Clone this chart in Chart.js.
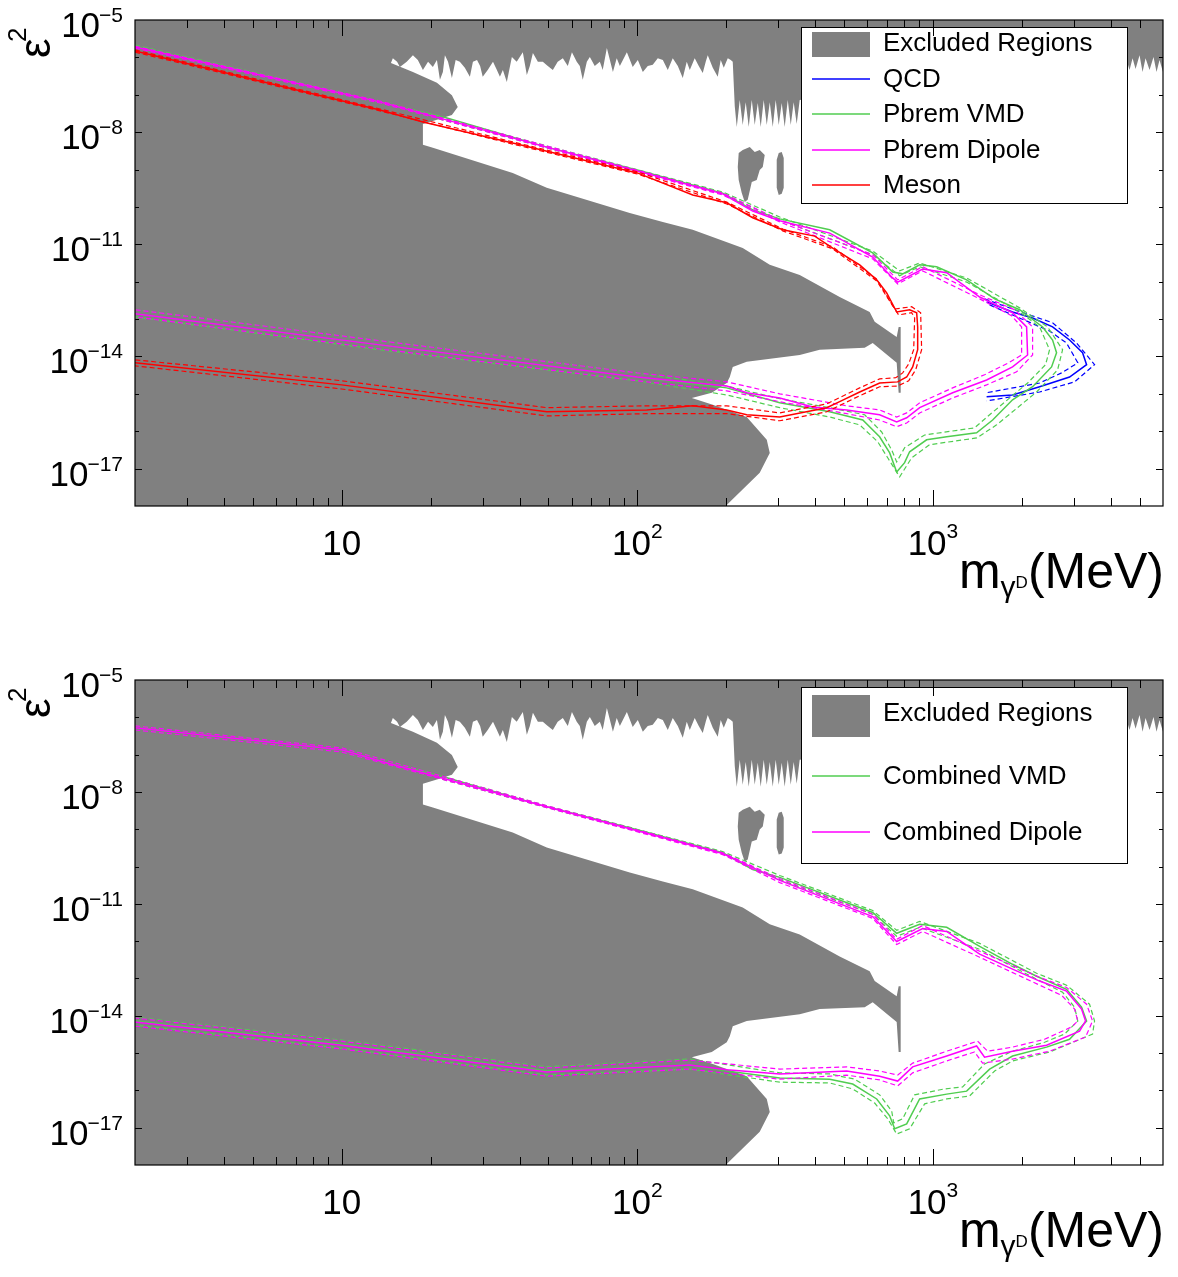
<!DOCTYPE html>
<html>
<head>
<meta charset="utf-8">
<script src="https://cdn.jsdelivr.net/npm/chart.js@4/dist/chart.umd.min.js"></script>
<style>
html, body { margin: 0; padding: 0; background: #fff; }
#wrap { position: relative; width: 1178px; height: 1277px; }
canvas { position: absolute; left: 0; }
#top { top: 0; }
#bottom { top: 660px; }
</style>
</head>
<body>
<div id="wrap">
<canvas id="top" width="1178" height="660"></canvas>
<canvas id="bottom" width="1178" height="617"></canvas>
</div>
<script>
// x values in MeV, y values stored as log10(eps^2)

// excluded region (same in both panels)
var excludedX = [2, 6000, 6000, 5839, 5706, 5573, 5403, 5238, 5117, 4998, 4846, 4734, 4624, 4518,
	354.3, 346.1, 338.1, 330.4, 322.8, 315.2, 308.0, 300.9, 293.9, 287.2, 280.6, 274.1, 267.7, 261.5, 255.6, 249.6, 243.9, 238.2, 232.7, 227.3, 222.1, 217.0, 213.6,
	210.3, 207.1, 202.3, 196.1, 191.5, 187.1, 180, 173.1, 170.4, 166.5, 161.4, 156.4, 150.5, 147.0, 142.5, 137.1, 131.8, 126.8, 122, 117.3, 112.8, 108.5, 104.4, 100.4, 96.5, 92.2, 87.3, 85.2, 82.7, 78.9, 76.4, 74.7, 71.8, 69.1, 67.5, 65.4, 63.9, 62.4, 60.1, 58.2, 56.0, 53.8, 51.8, 49.8, 47.9, 46.1, 44.35, 43.3, 42.3, 41.0, 39.1, 37.65, 36.2, 35.1, 34.3, 33.5, 32.5, 31.2, 30.0, 29.4, 28.7, 27.8, 27.15, 26.1, 25.1, 24.3, 23.6, 22.9, 22.35, 22.0, 21.5, 21.0, 20.35, 19.6, 18.83, 18.1, 17.42, 16.6, 15.74, 15.4, 14.9,
	14.68, 17.42, 21.0, 23.6, 24.7, 23.6, 21.0, 18.83, 18.83, 20.35, 37.9, 49.4, 94.3, 122, 154, 227.3, 280.6, 354.3, 483.7, 611, 635.3, 754, 765.6, 777.8, 777.8, 765.6, 754, 625.5, 587.7, 414, 354.3, 234.5, 210.3, 205.5, 200.7, 178.6, 152.9, 180, 234.5, 274.1, 280.6, 259.5, 205.5, 199.2, 2, 2];
var excludedLogY = [-5, -5, -6.39, -6.07, -6.39, -5.99, -6.34, -6.02, -6.39, -5.94, -6.31, -6.02, -6.34, -6.07,
	-7.14, -7.78, -7.20, -7.81, -7.14, -7.86, -7.22, -7.81, -7.14, -7.86, -7.20, -7.81, -7.14, -7.86, -7.22, -7.81, -7.14, -7.86, -7.20, -7.81, -7.14, -7.86, -7.30,
	-6.12, -6.07, -6.02, -6.28, -6.07, -6.52, -6.28, -5.94, -6.12, -6.42, -6.23, -6.02, -6.34, -6.12, -6.55, -6.23, -6.02, -6.34, -6.07, -6.02, -6.20, -6.23, -6.39, -6.07, -6.26, -5.86, -6.23, -6.02, -6.39, -5.75, -6.34, -6.12, -6.23, -5.99, -6.12, -6.60, -6.23, -6.12, -5.86, -6.23, -6.02, -6.12, -6.34, -6.23, -6.12, -6.12, -5.88, -6.23, -6.47, -5.86, -6.12, -5.99, -6.66, -6.34, -6.52, -6.34, -6.12, -6.34, -6.52, -6.23, -6.07, -6.12, -6.52, -6.28, -6.12, -6.07, -6.55, -6.12, -5.94, -6.39, -6.60, -6.07, -6.26, -6.12, -6.34, -6.07, -5.94, -6.12, -6.26, -6.12, -6.02,
	-6.15, -6.39, -6.68, -7.01, -7.33, -7.54, -7.67, -7.78, -8.34, -8.42, -9.09, -9.49, -10.16, -10.40, -10.61, -11.10, -11.55, -11.82, -12.41, -12.81, -13.07, -13.48, -13.21, -13.21, -14.97, -14.97, -14.17, -13.64, -13.77, -13.82, -13.96, -14.14, -14.28, -14.55, -14.71, -14.97, -15.11, -15.29, -15.62, -16.23, -16.58, -17.11, -17.89, -18, -18, -5];
var blobAX = [220.3, 227.3, 240.1, 249.6, 259.5, 269.8, 265.7, 259.5, 253.5, 243.9, 236.3, 230.9, 225.6, 220.3, 218.7, 220.3];
var blobALogY = [-8.56, -8.48, -8.40, -8.53, -8.48, -8.61, -8.93, -9.01, -9.28, -9.33, -9.81, -9.87, -9.63, -9.28, -8.93, -8.56];
var blobBX = [296.2, 300.9, 308.0, 312.8, 312.8, 308.0, 300.9, 296.2, 296.2];
var blobBLogY = [-8.74, -8.56, -8.53, -8.69, -9.49, -9.65, -9.68, -9.49, -8.74];

// top panel: QCD
var qcdX = [1519, 1859, 2173, 2539, 2898, 3207, 3309, 2898, 2295, 1859, 1519];
var qcdLogY = [-12.54, -12.81, -12.97, -13.21, -13.56, -13.90, -14.22, -14.55, -14.81, -15.03, -15.08];
var qcdHiX = [1495, 1859, 2539, 3061, 3521, 3013, 2295, 1519];
var qcdHiLogY = [-12.46, -12.73, -13.10, -13.64, -14.22, -14.68, -14.95, -15.19];
var qcdLoX = [1555, 1859, 2480, 2831, 3090, 2723, 2295, 1519];
var qcdLoLogY = [-12.62, -12.89, -13.32, -13.64, -14.17, -14.44, -14.71, -14.97];

// top panel: Pbrem VMD
var vmdX = [2, 13.48, 22.7, 49.4, 100, 194.5, 245.7, 303.3, 447.5, 625.5, 730.9, 790, 901.6, 1029, 1300, 1617, 1964, 2350, 2539, 2619, 2519, 2173, 1859, 1592, 1405, 1113, 952, 834, 802, 754, 714, 660, 579, 447.5, 303.3, 200.7, 100, 13.48, 2];
var vmdLogY = [-5.70, -7.19, -7.62, -8.40, -9.01, -9.63, -10.08, -10.32, -10.61, -11.23, -11.74, -11.79, -11.55, -11.60, -11.95, -12.46, -12.75, -13.21, -13.56, -13.90, -14.28, -14.81, -15.16, -15.70, -16.04, -16.15, -16.23, -16.55, -16.84, -17.09, -16.58, -16.15, -15.70, -15.48, -15.24, -14.84, -14.55, -13.69, -12.86];
var vmdHiX = [2, 13.48, 49.4, 194.5, 303.3, 625.5, 771.7, 901.6, 1300, 1964, 2442, 2745, 2640, 2242, 1642, 1405, 974.6, 847.3, 771.7, 703.1, 650.3, 565.2, 447.5, 303.3, 200.7, 100, 13.48, 2];
var vmdHiLogY = [-5.67, -7.17, -8.37, -9.60, -10.27, -11.18, -11.71, -11.50, -11.90, -12.70, -13.21, -13.82, -14.36, -14.95, -15.83, -16.18, -16.36, -16.71, -17.22, -16.71, -16.28, -15.83, -15.62, -15.37, -15.03, -14.65, -13.82, -12.94];
var vmdLoX = [2, 13.48, 49.4, 194.5, 303.3, 625.5, 771.7, 901.6, 1300, 1964, 2295, 2480, 2404, 2090, 1555, 1383, 937.5, 802.4, 754, 725.2, 670.8, 587.6, 447.5, 303.3, 200.7, 100, 13.48, 2];
var vmdLoLogY = [-5.72, -7.22, -8.42, -9.65, -10.35, -11.28, -11.84, -11.60, -12.01, -12.81, -13.21, -13.82, -14.22, -14.71, -15.56, -15.91, -16.10, -16.44, -16.82, -16.50, -16.02, -15.56, -15.37, -15.13, -14.79, -14.44, -13.58, -12.75];

// top panel: Pbrem Dipole
var dipX = [2, 13.48, 49.4, 100, 194.5, 245.7, 303.3, 447.5, 625.5, 730.9, 759.9, 923, 1113, 1439, 1859, 2074, 2090, 1859, 1519, 1166, 902, 815, 754, 660, 511, 392, 303.3, 234.5, 200.7, 100, 13.48, 2];
var dipLogY = [-5.72, -7.19, -8.40, -9.04, -9.65, -10.11, -10.37, -10.70, -11.34, -11.90, -12.01, -11.66, -11.76, -12.41, -12.83, -13.21, -13.96, -14.28, -14.63, -14.97, -15.37, -15.64, -15.75, -15.56, -15.43, -15.35, -15.11, -14.97, -14.79, -14.55, -13.69, -12.86];
var dipHiX = [2, 13.48, 49.4, 194.5, 303.3, 625.5, 759.9, 923, 1439, 1889, 2173, 2173, 1919, 1519, 1166, 902, 815, 754, 660.4, 511, 303.3, 200.7, 100, 13.48, 2];
var dipHiLogY = [-5.70, -7.17, -8.37, -9.63, -10.35, -11.28, -11.95, -11.60, -12.35, -12.75, -13.21, -13.96, -14.41, -14.76, -15.11, -15.51, -15.78, -15.88, -15.70, -15.53, -15.21, -14.92, -14.65, -13.80, -12.94];
var dipLoX = [2, 13.48, 49.4, 194.5, 303.3, 625.5, 759.9, 923, 1439, 1845, 1995, 1995, 1802, 1495, 1166, 902, 815, 754, 660.4, 511, 303.3, 200.7, 100, 13.48, 2];
var dipLoLogY = [-5.75, -7.22, -8.42, -9.68, -10.40, -11.39, -12.06, -11.71, -12.46, -12.91, -13.21, -13.96, -14.17, -14.49, -14.84, -15.24, -15.51, -15.62, -15.43, -15.32, -15.00, -14.68, -14.44, -13.58, -12.75];

// top panel: Meson
var mesonX = [2, 13.48, 18.83, 37.9, 100, 154, 200.7, 245.7, 310.4, 398.2, 458.1, 565.2, 645.3, 697.6, 754, 834.2, 881, 887.9, 887.9, 854, 815, 759.9, 660.4, 565.2, 483.6, 437.2, 303.3, 234.5, 200.7, 154, 107.7, 49.4, 10, 2];
var mesonLogY = [-5.83, -7.41, -7.73, -8.29, -9.09, -9.68, -9.89, -10.29, -10.61, -10.78, -11.10, -11.55, -11.95, -12.30, -12.81, -12.75, -12.83, -13.21, -13.82, -14.28, -14.55, -14.68, -14.71, -14.95, -15.21, -15.37, -15.62, -15.56, -15.43, -15.32, -15.43, -15.48, -14.76, -14.17];
var mesonHiX = [2, 13.48, 37.9, 100, 200.7, 310.4, 458.1, 645.3, 742.3, 847.3, 908.7, 915.8, 874.1, 827.8, 759.9, 660.4, 565.2, 437.2, 303.3, 200.7, 107.7, 49.4, 10, 2];
var mesonHiLogY = [-5.80, -7.38, -8.26, -9.06, -9.87, -10.59, -11.07, -11.93, -12.73, -12.67, -12.83, -13.82, -14.36, -14.65, -14.79, -14.81, -15.05, -15.48, -15.72, -15.53, -15.53, -15.59, -14.87, -14.25];
var mesonLoX = [2, 13.48, 37.9, 100, 200.7, 310.4, 458.1, 645.3, 765.6, 847.3, 867.3, 860.7, 827.8, 790, 748.1, 660.4, 565.2, 437.2, 303.3, 200.7, 107.7, 49.4, 10, 2];
var mesonLoLogY = [-5.86, -7.43, -8.32, -9.12, -9.92, -10.64, -11.12, -11.98, -12.89, -12.83, -12.97, -13.82, -14.20, -14.44, -14.57, -14.60, -14.84, -15.27, -15.51, -15.32, -15.32, -15.37, -14.65, -14.09];

// bottom panel: Combined VMD
var combVmdX = [2, 10, 13.48, 22.7, 49.4, 100, 194.5, 245.7, 303.3, 625.5, 754, 901.6, 1113, 1439, 1859, 2242, 2831, 3182, 3309, 2898, 2423, 1859, 1555, 1300, 1113, 901.6, 815, 742.3, 713.9, 645.3, 535.3, 447.5, 303.3, 200.7, 150.5, 49.4, 10, 2];
var combVmdLogY = [-6.28, -6.87, -7.17, -7.62, -8.40, -9.01, -9.63, -10.08, -10.29, -11.23, -11.79, -11.55, -11.63, -12.14, -12.62, -12.94, -13.29, -13.77, -14.14, -14.63, -14.84, -15.08, -15.43, -16.02, -16.10, -16.23, -16.90, -17.03, -16.68, -16.23, -15.83, -15.70, -15.67, -15.48, -15.32, -15.48, -14.76, -14.14];
var combVmdHiX = [2, 10, 49.4, 194.5, 303.3, 625.5, 754, 901.6, 1439, 2242, 2831, 3386, 3521, 3467, 2480, 1859, 1617, 1330, 1113, 937.5, 834.2, 754, 703.1, 635.3, 535.3, 447.5, 303.3, 150.5, 49.4, 10, 2];
var combVmdHiLogY = [-6.23, -6.82, -8.37, -9.60, -10.24, -11.18, -11.71, -11.47, -12.06, -12.86, -13.18, -13.69, -14.14, -14.49, -14.97, -15.21, -15.48, -16.15, -16.23, -16.36, -17.03, -17.17, -16.76, -16.34, -15.96, -15.80, -15.78, -15.43, -15.59, -14.87, -14.25];
var combVmdLoX = [2, 10, 49.4, 194.5, 303.3, 625.5, 754, 901.6, 1439, 2242, 2745, 3013, 3090, 2788, 2386, 1859, 1495, 1260, 1095.5, 867.3, 790, 736.5, 725.2, 660.4, 543.7, 447.5, 303.3, 150.5, 49.4, 10, 2];
var combVmdLoLogY = [-6.34, -6.93, -8.42, -9.65, -10.35, -11.28, -11.87, -11.63, -12.22, -13.02, -13.37, -13.77, -14.14, -14.49, -14.71, -14.95, -15.29, -15.91, -15.96, -16.12, -16.76, -16.87, -16.55, -16.12, -15.70, -15.56, -15.53, -15.16, -15.37, -14.65, -14.04];

// bottom panel: Combined Dipole
var combDipX = [2, 10, 13.48, 49.4, 100, 194.5, 303.3, 625.5, 754, 923, 1113, 1439, 1859, 2295, 2831, 3182, 3283, 3133, 2423, 1859, 1495, 1405, 1113, 854, 759.9, 660.4, 511, 303.3, 200.7, 150.5, 49.4, 10, 2];
var combDipLogY = [-6.28, -6.87, -7.17, -8.40, -9.04, -9.65, -10.37, -11.34, -12.01, -11.66, -11.74, -12.35, -12.75, -13.07, -13.34, -13.82, -14.14, -14.41, -14.79, -14.95, -15.11, -14.81, -15.08, -15.37, -15.75, -15.62, -15.48, -15.56, -15.45, -15.32, -15.51, -14.79, -14.17];
var combDipHiX = [2, 10, 49.4, 194.5, 303.3, 625.5, 754, 923, 1439, 2295, 2831, 3309, 3467, 3283, 2480, 1859, 1472, 1383, 1113, 854, 759.9, 660.4, 511, 303.3, 150.5, 49.4, 10, 2];
var combDipHiLogY = [-6.23, -6.82, -8.37, -9.63, -10.32, -11.28, -11.95, -11.58, -12.27, -12.97, -13.24, -13.69, -14.14, -14.57, -14.95, -15.16, -15.27, -14.97, -15.21, -15.53, -15.88, -15.72, -15.59, -15.70, -15.43, -15.62, -14.89, -14.28];
var combDipLoX = [2, 10, 49.4, 194.5, 303.3, 625.5, 754, 923, 1439, 2295, 2723, 3013, 3090, 2944, 2386, 1859, 1531, 1416, 1113, 854, 759.9, 660.4, 511, 303.3, 150.5, 49.4, 10, 2];
var combDipLoLogY = [-6.34, -6.93, -8.42, -9.68, -10.43, -11.39, -12.09, -11.74, -12.43, -13.18, -13.45, -13.82, -14.14, -14.30, -14.63, -14.84, -14.95, -14.68, -14.95, -15.27, -15.59, -15.48, -15.37, -15.43, -15.19, -15.40, -14.68, -14.06];

// axis ticks
var xTickValues = [10, 100, 1000];
var xTickExps = ['', '2', '3'];
var yTickValues = [1e-5, 1e-8, 1e-11, 1e-14, 1e-17];
var yTickExps = ['\u22125', '\u22128', '\u221211', '\u221214', '\u221217'];

var FONT = '"Liberation Sans", Arial, Helvetica, sans-serif';
var GRAY = '#808080';
var GREEN = 'rgb(80,205,80)';
var MAGENTA = '#ff00ff';
var RED = '#ff0000';
var BLUE = '#0000ff';

function pts(xs, logys) {
	var out = [];
	for (var i = 0; i < Math.min(xs.length, logys.length); i++) {
		out.push({x: xs[i], y: Math.pow(10, logys[i])});
	}
	return out;
}

function lineSet(xs, ys, color, dashed) {
	return {
		data: pts(xs, ys),
		showLine: true,
		borderColor: color,
		borderWidth: dashed ? 1.2 : 1.5,
		borderDash: dashed ? [5, 3] : [],
		pointRadius: 0,
		fill: false
	};
}

function areaSet(xs, ys) {
	return {
		data: pts(xs, ys),
		showLine: true,
		borderWidth: 0,
		borderColor: 'rgba(0,0,0,0)',
		backgroundColor: GRAY,
		pointRadius: 0,
		fill: 'shape'
	};
}

function excludedSets() {
	return [areaSet(excludedX, excludedLogY), areaSet(blobAX, blobALogY), areaSet(blobBX, blobBLogY)];
}

function line(ctx, x1, y1, x2, y2) {
	ctx.beginPath();
	ctx.moveTo(x1, y1);
	ctx.lineTo(x2, y2);
	ctx.stroke();
}

// draws the matlab style box, inward ticks, labels and legend
var axesPlugin = {
	id: 'matlabAxes',
	afterDraw: function(chart, args, opts) {
		var ctx = chart.ctx;
		var a = chart.chartArea;
		var xs = chart.scales.x;
		var ys = chart.scales.y;
		ctx.save();

		// legend
		var lg = opts.legend;
		var bx = a.right - 362, by = a.top + 7, bw = 326, bh = 176;
		ctx.fillStyle = '#fff';
		ctx.fillRect(bx, by, bw, bh);
		ctx.strokeStyle = '#000';
		ctx.lineWidth = 1;
		ctx.setLineDash([]);
		ctx.strokeRect(bx + 0.5, by + 0.5, bw, bh);
		ctx.font = '26px ' + FONT;
		ctx.textBaseline = 'middle';
		ctx.textAlign = 'left';
		for (var i = 0; i < lg.items.length; i++) {
			var it = lg.items[i];
			var ry = by + lg.rows[i];
			if (it.patch) {
				ctx.fillStyle = GRAY;
				ctx.fillRect(bx + 11, by + lg.patchTop, 58, lg.patchH);
			} else {
				ctx.strokeStyle = it.color;
				ctx.lineWidth = 1.5;
				line(ctx, bx + 11, ry, bx + 69, ry);
			}
			ctx.fillStyle = '#000';
			ctx.fillText(it.label, bx + 82, ry + 1);
		}

		// frame
		ctx.strokeStyle = '#000';
		ctx.lineWidth = 1.2;
		ctx.strokeRect(a.left, a.top, a.right - a.left, a.bottom - a.top);
		ctx.lineWidth = 1;
		for (var e = 0; e <= 3; e++) {
			for (var m = 1; m <= 9; m++) {
				var v = m * Math.pow(10, e);
				if (v <= xs.min || v >= xs.max) continue;
				var px = Math.round(xs.getPixelForValue(v)) + 0.5;
				var len = m === 1 ? 16 : 8;
				line(ctx, px, a.bottom, px, a.bottom - len);
				line(ctx, px, a.top, px, a.top + len);
			}
		}
		for (var k = -17; k <= -6; k++) {
			var py = Math.round(ys.getPixelForValue(Math.pow(10, k))) + 0.5;
			var major = (k + 5) % 3 === 0;
			var ylen = major ? 7 : 4;
			line(ctx, a.left, py, a.left + ylen, py);
			line(ctx, a.right, py, a.right - ylen, py);
		}

		// tick labels
		ctx.fillStyle = '#000';
		ctx.textBaseline = 'alphabetic';
		ctx.textAlign = 'left';
		for (var j = 0; j < xTickValues.length; j++) {
			var tx = xs.getPixelForValue(xTickValues[j]);
			ctx.font = '35px ' + FONT;
			var wb = ctx.measureText('10').width;
			ctx.font = '21px ' + FONT;
			var ws = xTickExps[j] ? ctx.measureText(xTickExps[j]).width : 0;
			var sx = tx - (wb + ws) / 2;
			ctx.font = '35px ' + FONT;
			ctx.fillText('10', sx, a.bottom + 49);
			if (xTickExps[j]) {
				ctx.font = '21px ' + FONT;
				ctx.fillText(xTickExps[j], sx + wb, a.bottom + 32);
			}
		}
		for (var n = 0; n < yTickValues.length; n++) {
			var ty = ys.getPixelForValue(yTickValues[n]);
			var right = a.left - 12;
			ctx.font = '21px ' + FONT;
			var wsy = ctx.measureText(yTickExps[n]).width;
			ctx.fillText(yTickExps[n], right - wsy, ty + 2);
			ctx.font = '35px ' + FONT;
			var wby = ctx.measureText('10').width;
			ctx.fillText('10', right - wsy - wby + 1, ty + 17);
		}

		// x axis title m_{gamma_D}(MeV)
		var base = a.bottom + 82;
		ctx.font = '50px ' + FONT;
		var wm = ctx.measureText('m').width;
		var wp = ctx.measureText('(MeV)').width;
		ctx.font = '30px ' + FONT;
		var wg = ctx.measureText('\u03b3').width;
		ctx.font = '17px ' + FONT;
		var wd = ctx.measureText('D').width;
		var x0 = a.right + 1 - (wm + wg + wd + wp);
		ctx.font = '50px ' + FONT;
		ctx.fillText('m', x0, base);
		ctx.font = '30px ' + FONT;
		ctx.fillText('\u03b3', x0 + wm, base + 9);
		ctx.font = '17px ' + FONT;
		ctx.fillText('D', x0 + wm + wg, base);
		ctx.font = '50px ' + FONT;
		ctx.fillText('(MeV)', x0 + wm + wg + wd, base);

		// y axis title eps^2
		ctx.save();
		ctx.translate(50, a.top + 38);
		ctx.rotate(-Math.PI / 2);
		ctx.font = '44px ' + FONT;
		ctx.fillText('\u03b5', 0, 0);
		ctx.font = '26px ' + FONT;
		ctx.fillText('2', 16, -24);
		ctx.restore();

		ctx.restore();
	}
};

function makeChart(id, datasets, legend, padBottom) {
	return new Chart(document.getElementById(id), {
		type: 'scatter',
		data: {datasets: datasets},
		options: {
			responsive: false,
			animation: false,
			devicePixelRatio: 1,
			layout: {padding: {left: 135, top: 20, right: 15, bottom: padBottom}},
			scales: {
				x: {type: 'logarithmic', min: 2, max: 6000, bounds: 'data', display: false},
				y: {type: 'logarithmic', min: 1e-18, max: 1e-5, bounds: 'data', display: false}
			},
			plugins: {
				legend: {display: false},
				tooltip: {enabled: false},
				matlabAxes: {legend: legend}
			}
		},
		plugins: [axesPlugin]
	});
}

// first dataset is drawn on top
var topSets = [
	lineSet(mesonX, mesonLogY, RED, false),
	lineSet(mesonHiX, mesonHiLogY, RED, true),
	lineSet(mesonLoX, mesonLoLogY, RED, true),
	lineSet(dipX, dipLogY, MAGENTA, false),
	lineSet(dipHiX, dipHiLogY, MAGENTA, true),
	lineSet(dipLoX, dipLoLogY, MAGENTA, true),
	lineSet(vmdX, vmdLogY, GREEN, false),
	lineSet(vmdHiX, vmdHiLogY, GREEN, true),
	lineSet(vmdLoX, vmdLoLogY, GREEN, true),
	lineSet(qcdX, qcdLogY, BLUE, false),
	lineSet(qcdHiX, qcdHiLogY, BLUE, true),
	lineSet(qcdLoX, qcdLoLogY, BLUE, true)
].concat(excludedSets());

var bottomSets = [
	lineSet(combDipX, combDipLogY, MAGENTA, false),
	lineSet(combDipHiX, combDipHiLogY, MAGENTA, true),
	lineSet(combDipLoX, combDipLoLogY, MAGENTA, true),
	lineSet(combVmdX, combVmdLogY, GREEN, false),
	lineSet(combVmdHiX, combVmdHiLogY, GREEN, true),
	lineSet(combVmdLoX, combVmdLoLogY, GREEN, true)
].concat(excludedSets());

makeChart('top', topSets, {
	items: [
		{label: 'Excluded Regions', patch: true},
		{label: 'QCD', color: BLUE},
		{label: 'Pbrem VMD', color: GREEN},
		{label: 'Pbrem Dipole', color: MAGENTA},
		{label: 'Meson', color: RED}
	],
	rows: [16, 52, 87, 123, 158],
	patchTop: 5,
	patchH: 25
}, 154);

makeChart('bottom', bottomSets, {
	items: [
		{label: 'Excluded Regions', patch: true},
		{label: 'Combined VMD', color: GREEN},
		{label: 'Combined Dipole', color: MAGENTA}
	],
	rows: [26, 89, 145],
	patchTop: 8,
	patchH: 42
}, 112);
</script>
</body>
</html>
